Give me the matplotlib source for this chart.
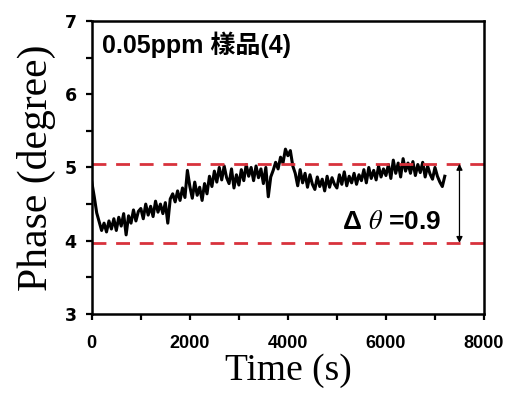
import numpy as np
import matplotlib
matplotlib.use("Agg")
import matplotlib.pyplot as plt

plt.rcParams['mathtext.fontset'] = 'stix'

# phase trace, sampled every 50 s from 0 to 7200 s
time_s = np.arange(0, 7201, 50)
phase_deg = [
    4.80, 4.60, 4.38, 4.26, 4.14, 4.24, 4.12, 4.27, 4.16, 4.30,
    4.14, 4.32, 4.20, 4.37, 4.08, 4.34, 4.24, 4.42, 4.27, 4.40,
    4.44, 4.30, 4.50, 4.35, 4.47, 4.33, 4.54, 4.39, 4.50, 4.37,
    4.52, 4.24, 4.57, 4.64, 4.53, 4.68, 4.55, 4.72, 4.59, 4.96,
    4.74, 4.58, 4.80, 4.62, 4.73, 4.55, 4.78, 4.64, 4.88, 4.74,
    4.95, 4.80, 5.00, 4.83, 5.02, 4.86, 4.78, 4.98, 4.72, 4.90,
    4.76, 4.97, 4.82, 5.04, 4.88, 5.00, 4.82, 5.02, 4.86, 4.98,
    4.78, 5.00, 4.60, 4.87, 4.96, 5.07, 4.98, 5.14, 5.06, 5.25,
    5.16, 5.23, 5.02, 4.92, 4.75, 4.97, 4.79, 4.92, 4.73, 4.90,
    4.77, 4.70, 4.87, 4.74, 4.84, 4.68, 4.88, 4.73, 4.86, 4.77,
    4.72, 4.90, 4.77, 4.94, 4.75, 4.88, 4.79, 4.92, 4.77, 4.90,
    4.82, 4.97, 4.79, 5.00, 4.85, 4.96, 4.83, 5.02, 4.87, 4.98,
    4.89, 5.04, 4.85, 5.10, 4.92, 5.06, 4.87, 5.12, 4.95, 5.06,
    4.92, 5.08, 4.89, 5.04, 4.93, 5.07, 4.87, 5.02, 4.91, 4.84,
    5.00, 4.88, 4.80, 4.74, 4.88,
]

upper_level = 5.05
lower_level = 3.97
arrow_time = 7500
delta_label = "0.9"
sample_label = "0.05ppm 樣品(4)"

x_ticks = [0, 2000, 4000, 6000, 8000]
y_ticks = [3, 4, 5, 6, 7]

fig = plt.figure(figsize=(5.10, 3.94), dpi=100)
ax = fig.add_axes([0.180, 0.203, 0.769, 0.744])

ax.plot(time_s, phase_deg, color='black', lw=2.2)

for level in (upper_level, lower_level):
    ax.axhline(level, color='#d8323c', lw=2.0, ls=(0, (5, 3.5)))

ax.annotate('', xy=(arrow_time, lower_level), xytext=(arrow_time, upper_level),
            arrowprops=dict(arrowstyle='<|-|>', color='black', lw=0.9,
                            mutation_scale=9, shrinkA=0, shrinkB=0))

ax.text(0.026, 0.918, sample_label, transform=ax.transAxes,
        ha='left', va='center', fontsize=18, fontweight='bold',
        family=['Liberation Sans', 'Noto Sans CJK TC'])
ax.text(0.638, 0.314, r'Δ $\theta$ =' + delta_label, transform=ax.transAxes,
        ha='left', va='center', fontsize=19, fontweight='bold',
        family='Liberation Sans')

ax.set_xlim(0, 8000)
ax.set_ylim(3, 7)
ax.set_xticks(x_ticks)
ax.set_yticks(y_ticks)
ax.set_xticks([1000, 3000, 5000, 7000], minor=True)
ax.set_yticks([3.5, 4.5, 5.5, 6.5], minor=True)
ax.set_xticklabels([str(v) for v in x_ticks], fontsize=13, fontweight='bold',
                   family='Liberation Sans')
ax.set_yticklabels([str(v) for v in y_ticks], fontsize=12.5, fontweight='bold',
                   family='DejaVu Sans')
ax.tick_params(axis='both', which='both', direction='out', width=1.6,
               length=4)
ax.tick_params(axis='x', which='major', pad=11)
ax.tick_params(axis='y', which='major', pad=7)

for sp in ax.spines.values():
    sp.set_linewidth(1.8)

ax.set_xlabel('Time (s)', fontsize=27, family='Liberation Serif', labelpad=1)
ax.set_ylabel('Phase (degree)', fontsize=30, family='Liberation Serif',
              labelpad=6)

fig.savefig('out.png', dpi=100)
